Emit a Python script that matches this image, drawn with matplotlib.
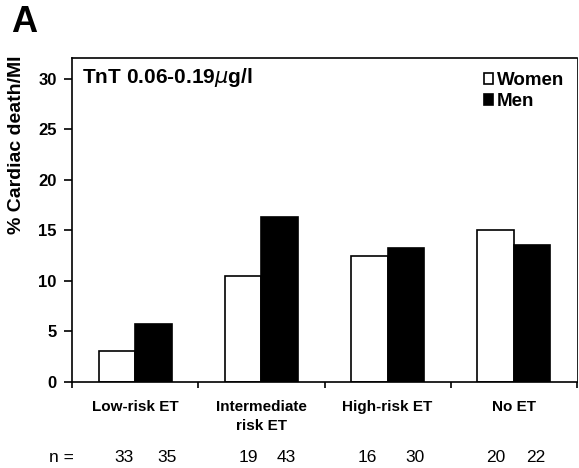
import matplotlib
matplotlib.use("Agg")
import matplotlib.pyplot as plt
import numpy as np

plt.rcParams["font.family"] = ["Liberation Sans", "DejaVu Sans"]

categories = ["Low-risk ET", "Intermediate\nrisk ET", "High-risk ET", "No ET"]
women = [3.0, 10.5, 12.4, 15.0]
men = [5.7, 16.3, 13.25, 13.5]
n_women = [33, 19, 16, 20]
n_men = [35, 43, 30, 22]

# where the n counts sit (data x); they don't line up exactly with the bars
n_women_x = [-0.09, 0.90, 1.84, 2.86]
n_men_x = [0.25, 1.20, 2.22, 3.17]

fig = plt.figure(figsize=(5.79, 4.68), dpi=100)
ax = fig.add_axes([72 / 579, 86.3 / 468, 505 / 579, 323.4 / 468])

x = np.arange(len(categories))
w = 0.29
ax.bar(x - w / 2, women, w, color="white", edgecolor="black", linewidth=1.2, label="Women")
ax.bar(x + w / 2, men, w, color="black", edgecolor="black", linewidth=1.2, label="Men")

ax.set_xlim(-0.5, 3.5)
ax.set_ylim(0, 32)
ax.set_yticks(range(0, 31, 5))
ax.set_xticks([-0.5, 0.5, 1.5, 2.5, 3.5])
ax.set_xticklabels([])
ax.tick_params(axis="x", direction="out", length=4, width=1.2)
ax.tick_params(axis="y", direction="out", length=6, width=1.2, labelsize=12, pad=5)
for lab in ax.get_yticklabels():
    lab.set_fontweight("bold")
for s in ax.spines.values():
    s.set_linewidth(1.2)
ax.spines["right"].set_linewidth(0.6)

trans = ax.get_xaxis_transform()
for i, c in enumerate(categories):
    ax.text(x[i], -0.057, c, transform=trans, ha="center", va="top",
            fontsize=11, fontweight="bold", linespacing=1.45)
    ax.text(n_women_x[i], -0.249, str(n_women[i]), transform=trans,
            ha="center", va="baseline", fontsize=12.5)
    ax.text(n_men_x[i], -0.249, str(n_men[i]), transform=trans,
            ha="center", va="baseline", fontsize=12.5)
ax.text(-0.58, -0.249, "n =", transform=trans, ha="center", va="baseline", fontsize=12.5)

ax.text(0.02, 0.923, r"TnT 0.06-0.19$\mathit{\mu}$g/l", transform=ax.transAxes,
        ha="left", va="baseline", fontsize=15, fontweight="bold")

ax.legend(loc="upper right", frameon=False,
          prop={"weight": "bold", "size": 13.5}, handlelength=0.5, handleheight=0.5,
          handletextpad=0.2, labelspacing=0.22, borderpad=0.0, borderaxespad=0.0,
          bbox_to_anchor=(0.975, 0.958))

fig.text(17 / 579, 1 - 145 / 468, "% Cardiac death/MI", rotation=90,
         ha="center", va="center", fontsize=14, fontweight="bold")
fig.text(11 / 579, 1 - 23 / 468, "A", ha="left", va="center",
         fontsize=26, fontweight="bold")

fig.savefig("out.png", dpi=100)
